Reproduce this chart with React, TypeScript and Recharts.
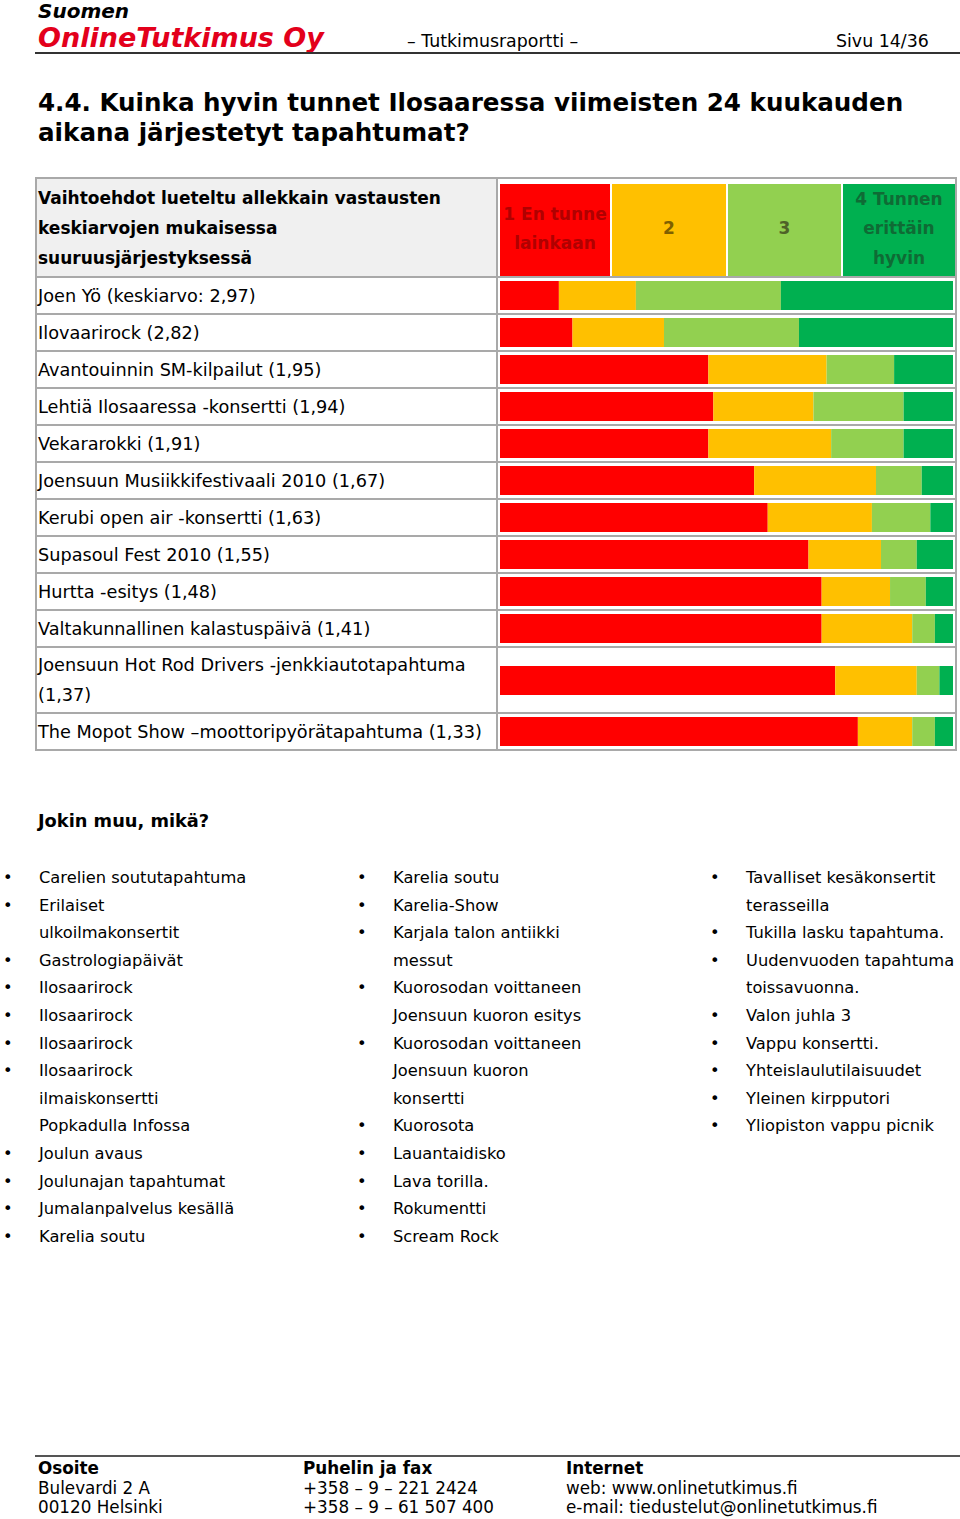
import React from "react";
import { BarChart, Bar, XAxis, YAxis } from "recharts";

const categories = [
  "Joen Yö (keskiarvo: 2,97)",
  "Ilovaarirock (2,82)",
  "Avantouinnin SM-kilpailut (1,95)",
  "Lehtiä Ilosaaressa -konsertti (1,94)",
  "Vekararokki (1,91)",
  "Joensuun Musiikkifestivaali 2010 (1,67)",
  "Kerubi open air -konsertti (1,63)",
  "Supasoul Fest 2010 (1,55)",
  "Hurtta -esitys (1,48)",
  "Valtakunnallinen kalastuspäivä (1,41)",
  "Joensuun Hot Rod Drivers -jenkkiautotapahtuma\n(1,37)",
  "The Mopot Show –moottoripyörätapahtuma (1,33)",
];

// % of answers per option
const en1 = [13.0, 16.0, 46.0, 47.1, 46.0, 56.1, 59.1, 68.1, 71.0, 71.0, 74.0, 79.0];
const two = [17.0, 20.2, 26.1, 22.1, 27.1, 26.9, 23.0, 16.0, 15.1, 20.0, 18.0, 12.0];
const three = [32.0, 29.8, 14.9, 19.9, 16.0, 10.1, 12.9, 7.9, 7.9, 5.0, 5.0, 5.0];
const four = [38.0, 34.0, 13.0, 10.9, 10.9, 6.9, 5.0, 8.0, 6.0, 4.0, 3.0, 4.0];

const optionLabels = ["1 En tunne\nlainkaan", "2", "3", "4 Tunnen\nerittäin\nhyvin"];

const listCol1 = [
  ["Carelien soututapahtuma"],
  ["Erilaiset", "ulkoilmakonsertit"],
  ["Gastrologiapäivät"],
  ["Ilosaarirock"],
  ["Ilosaarirock"],
  ["Ilosaarirock"],
  ["Ilosaarirock", "ilmaiskonsertti", "Popkadulla Infossa"],
  ["Joulun avaus"],
  ["Joulunajan tapahtumat"],
  ["Jumalanpalvelus kesällä"],
  ["Karelia soutu"],
];
const listCol2 = [
  ["Karelia soutu"],
  ["Karelia-Show"],
  ["Karjala talon antiikki", "messut"],
  ["Kuorosodan voittaneen", "Joensuun kuoron esitys"],
  ["Kuorosodan voittaneen", "Joensuun kuoron", "konsertti"],
  ["Kuorosota"],
  ["Lauantaidisko"],
  ["Lava torilla."],
  ["Rokumentti"],
  ["Scream Rock"],
];
const listCol3 = [
  ["Tavalliset kesäkonsertit", "terasseilla"],
  ["Tukilla lasku tapahtuma."],
  ["Uudenvuoden tapahtuma", "toissavuonna."],
  ["Valon juhla 3"],
  ["Vappu konsertti."],
  ["Yhteislaulutilaisuudet"],
  ["Yleinen kirpputori"],
  ["Yliopiston vappu picnik"],
];

const COLORS = ["#ff0000", "#ffc000", "#92d050", "#00b050"];
const TEXT_COLORS = ["#b00000", "#7f6000", "#4f6228", "#0f6b35"];
const FONT = "'DejaVu Sans', Verdana, sans-serif";
const BORDER = "2px solid #a9a9a9";

const rows = categories.map((name, i) => ({
  name,
  v1: en1[i],
  v2: two[i],
  v3: three[i],
  v4: four[i],
}));

const RowBar = ({ row }: { row: any }) => (
  <BarChart
    width={453}
    height={29}
    data={[row]}
    layout="vertical"
    margin={{ top: 0, right: 0, bottom: 0, left: 0 }}
    barCategoryGap={0}
  >
    <XAxis type="number" domain={[0, 100]} hide />
    <YAxis type="category" dataKey="name" hide />
    {["v1", "v2", "v3", "v4"].map((k, i) => (
      <Bar key={k} dataKey={k} stackId="a" fill={COLORS[i]} isAnimationActive={false} />
    ))}
  </BarChart>
);

const BulletCol = ({ items, x }: { items: string[][]; x: number }) => (
  <div style={{ position: "absolute", left: x, top: 864, fontSize: 16.3, lineHeight: "27.6px" }}>
    {items.map((lines, i) => (
      <div key={i} style={{ position: "relative", paddingLeft: 36 }}>
        <span style={{ position: "absolute", left: 0, top: 0 }}>•</span>
        {lines.map((l, j) => (
          <div key={j}>{l}</div>
        ))}
      </div>
    ))}
  </div>
);

export default function App() {
  return (
    <div
      style={{
        position: "absolute",
        left: 0,
        top: 0,
        width: 960,
        height: 1519,
        background: "#fff",
        fontFamily: FONT,
        color: "#000",
        overflow: "hidden",
      }}
    >
      {/* page header */}
      <div style={{ position: "absolute", left: 38, top: 0, fontSize: 20, lineHeight: "22px", fontWeight: "bold", fontStyle: "italic" }}>
        Suomen
      </div>
      <div
        style={{
          position: "absolute",
          left: 38,
          top: 23,
          fontSize: 27,
          lineHeight: "30px",
          fontWeight: "bold",
          fontStyle: "italic",
          color: "#e3001b",
        }}
      >
        OnlineTutkimus Oy
      </div>
      <div style={{ position: "absolute", left: 407, top: 31, fontSize: 17.4, lineHeight: "20px" }}>– Tutkimusraportti –</div>
      <div style={{ position: "absolute", left: 836, top: 31, fontSize: 17.4, lineHeight: "20px" }}>Sivu 14/36</div>
      <div style={{ position: "absolute", left: 35, top: 52, width: 925, height: 2, background: "#333" }} />

      {/* title */}
      <div style={{ position: "absolute", left: 38, top: 88, fontSize: 24.6, lineHeight: "29.5px", fontWeight: "bold" }}>
        4.4. Kuinka hyvin tunnet Ilosaaressa viimeisten 24 kuukauden
        <br />
        aikana järjestetyt tapahtumat?
      </div>

      {/* table with bars */}
      <div
        style={{
          position: "absolute",
          left: 35,
          top: 177,
          width: 922,
          borderLeft: BORDER,
          borderRight: BORDER,
          borderTop: BORDER,
          boxSizing: "border-box",
        }}
      >
        <div style={{ display: "flex", height: 99, borderBottom: BORDER, boxSizing: "border-box" }}>
          <div
            style={{
              width: 461,
              borderRight: BORDER,
              boxSizing: "border-box",
              background: "#f0f0f0",
              display: "flex",
              alignItems: "center",
              paddingLeft: 1,
              fontSize: 17,
              fontWeight: "bold",
              lineHeight: "30px",
            }}
          >
            <div>
              Vaihtoehdot lueteltu allekkain vastausten
              <br />
              keskiarvojen mukaisessa
              <br />
              suuruusjärjestyksessä
            </div>
          </div>
          <div style={{ display: "flex", gap: 2, paddingLeft: 2, paddingTop: 5 }}>
            {optionLabels.map((t, i) => (
              <div
                key={i}
                style={{
                  width: [110, 114, 113, 112][i],
                  background: COLORS[i],
                  color: TEXT_COLORS[i],
                  fontWeight: "bold",
                  fontSize: 17,
                  lineHeight: "29.5px",
                  whiteSpace: "pre-line",
                  textAlign: "center",
                  display: "flex",
                  alignItems: "center",
                  justifyContent: "center",
                  paddingBottom: 2,
                  boxSizing: "border-box",
                }}
              >
                {t}
              </div>
            ))}
          </div>
        </div>
        {rows.map((row, i) => {
          const twoLines = row.name.includes("\n");
          return (
            <div
              key={i}
              style={{
                display: "flex",
                height: twoLines ? 66 : 37,
                borderBottom: BORDER,
                boxSizing: "border-box",
              }}
            >
              <div
                style={{
                  width: 461,
                  borderRight: BORDER,
                  boxSizing: "border-box",
                  display: "flex",
                  alignItems: "center",
                  paddingLeft: 1,
                  fontSize: 17.7,
                  lineHeight: "30px",
                  whiteSpace: "pre-line",
                }}
              >
                {row.name}
              </div>
              <div style={{ display: "flex", alignItems: "center", paddingLeft: 2 }}>
                <RowBar row={row} />
              </div>
            </div>
          );
        })}
      </div>

      {/* other answers */}
      <div style={{ position: "absolute", left: 38, top: 811, fontSize: 17.8, lineHeight: "20px", fontWeight: "bold" }}>
        Jokin muu, mikä?
      </div>
      <BulletCol items={listCol1} x={3} />
      <BulletCol items={listCol2} x={357} />
      <BulletCol items={listCol3} x={710} />

      {/* footer */}
      <div style={{ position: "absolute", left: 35, top: 1455, width: 925, height: 2, background: "#555" }} />
      {[
        ["Osoite", "Bulevardi 2 A", "00120 Helsinki"],
        ["Puhelin ja fax", "+358 – 9 – 221 2424", "+358 – 9 – 61 507 400"],
        ["Internet", "web: www.onlinetutkimus.fi", "e-mail: tiedustelut@onlinetutkimus.fi"],
      ].map((col, i) => (
        <div key={i} style={{ position: "absolute", left: [38, 303, 566][i], top: 1459, fontSize: 16.8, lineHeight: "19.5px" }}>
          {col.map((t, j) => (
            <div key={j} style={{ fontWeight: j === 0 ? "bold" : "normal" }}>
              {t}
            </div>
          ))}
        </div>
      ))}
    </div>
  );
}
